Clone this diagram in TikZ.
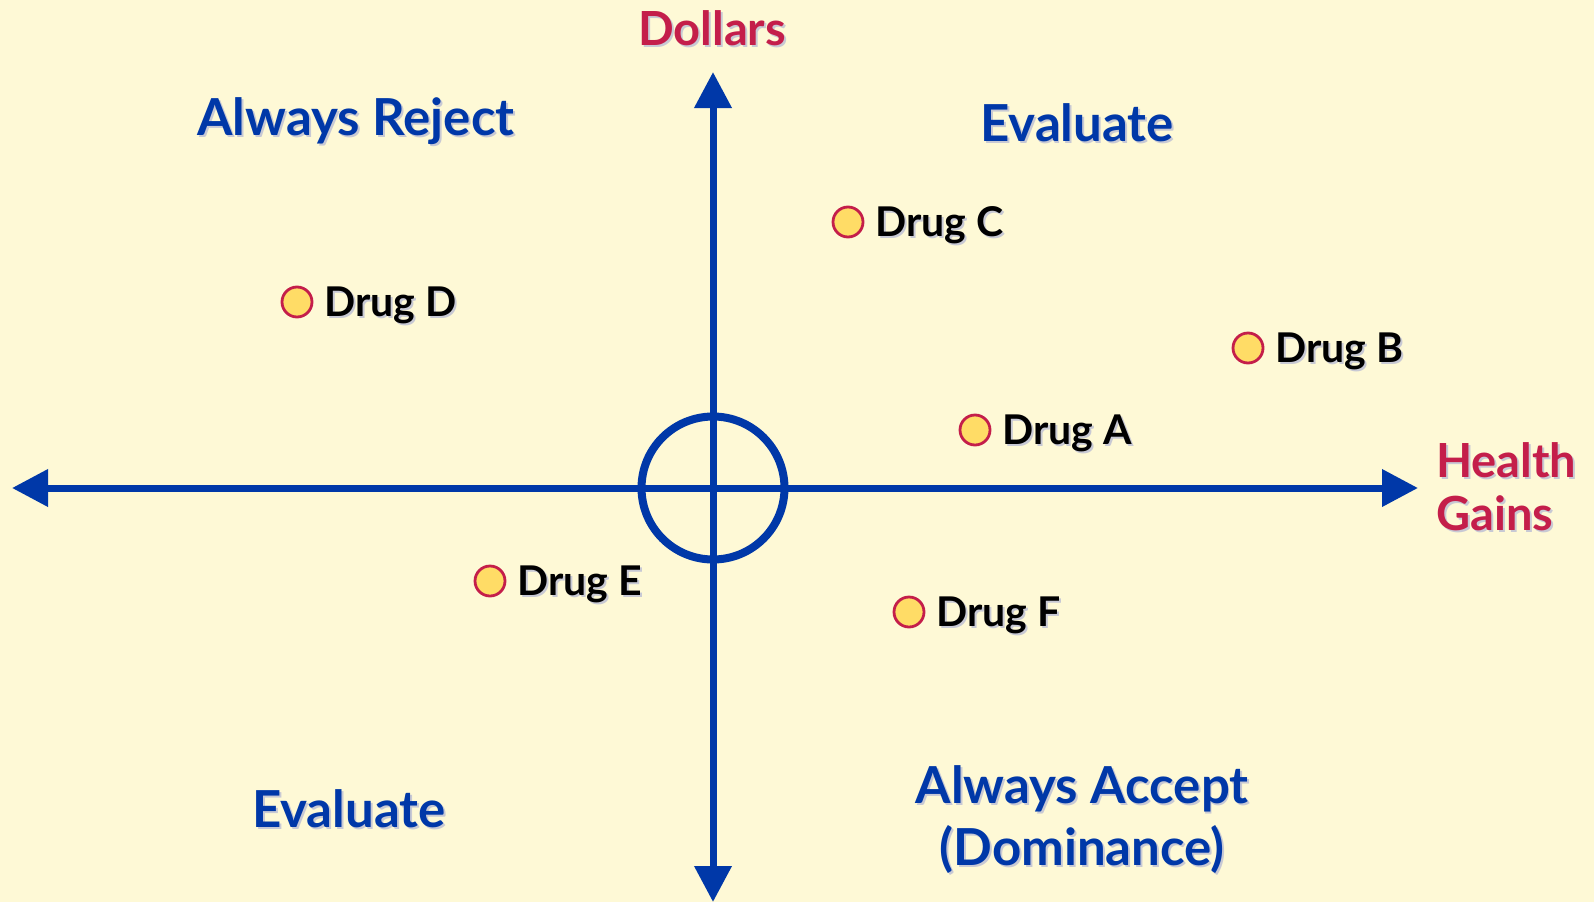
\documentclass[tikz,border=0pt]{standalone}
\usepackage{fontspec}
\setmainfont{Lato}
\usetikzlibrary{arrows.meta,positioning}
\definecolor{cream}{HTML}{FEF9D6}
\definecolor{axisblue}{HTML}{0038A8}
\definecolor{crimson}{HTML}{C41E4A}
\definecolor{dotfill}{HTML}{FFDC66}
\definecolor{shade}{HTML}{C8C9D4}
\newcommand{\shtext}[2]{\leavevmode\rlap{\kern2pt\raisebox{-2pt}{\color{shade}#2}}{\color{#1}#2}}
\tikzset{
  axis/.style={line width=7pt, draw=axisblue, {Triangle[length=36pt,width=36pt]}-{Triangle[length=36pt,width=36pt]}},
  ring/.style={circle, draw=axisblue, line width=8pt, minimum size=143pt, inner sep=0pt},
  drugdot/.style={circle, draw=crimson, fill=dotfill, line width=2.8pt, minimum size=30pt, inner sep=0pt},
  druglabel/.style={inner sep=0pt, font=\fontsize{41}{46}\selectfont\bfseries},
  region/.style={inner sep=0pt, anchor=base, align=center, font=\fontsize{51}{62}\selectfont\bfseries},
  axislabel/.style={inner sep=0pt, align=left, font=\fontsize{47}{53}\selectfont\bfseries}
}
\begin{document}
\begin{tikzpicture}[x=1pt,y=-1pt]
\fill[cream] (0,0) rectangle (1594,902);
\useasboundingbox (0,0) rectangle (1594,902);
\coordinate (O) at (713,488);
\coordinate (W) at (12,488);
\coordinate (E) at (1418,488);
\coordinate (N) at (713,72);
\coordinate (S) at (713,902);
\draw[axis] (W) -- (E);
\draw[axis] (S) -- (N);
\node[ring] (origin) at (O) {};

\node[axislabel, anchor=base] (dollars) at (712,45) {\shtext{crimson}{Dollars}};
\node[axislabel, anchor=base west] (health) at (1436,530) {\shtext{crimson}{Health}\\\shtext{crimson}{Gains}};

\node[region] (reject) at (356,135) {\shtext{axisblue}{Always Reject}};
\node[region] (evalTop) at (1077,141) {\shtext{axisblue}{Evaluate}};
\node[region] (evalBottom) at (349,827) {\shtext{axisblue}{Evaluate}};
\node[region] (accept) at (1082,865) {\shtext{axisblue}{Always Accept}\\\shtext{axisblue}{(Dominance)}};

\node[drugdot] (dA) at (975,430) {};
\node[drugdot] (dB) at (1248,348) {};
\node[drugdot] (dC) at (848,222) {};
\node[drugdot] (dD) at (297,302) {};
\node[drugdot] (dE) at (490,581) {};
\node[drugdot] (dF) at (909,612) {};
\node[druglabel, right=11pt of dA.east, anchor=base west, yshift=-14pt] (lA) {\shtext{black}{Drug A}};
\node[druglabel, right=11pt of dB.east, anchor=base west, yshift=-14pt] (lB) {\shtext{black}{Drug B}};
\node[druglabel, right=11pt of dC.east, anchor=base west, yshift=-14pt] (lC) {\shtext{black}{Drug C}};
\node[druglabel, right=11pt of dD.east, anchor=base west, yshift=-14pt] (lD) {\shtext{black}{Drug D}};
\node[druglabel, right=11pt of dE.east, anchor=base west, yshift=-14pt] (lE) {\shtext{black}{Drug E}};
\node[druglabel, right=11pt of dF.east, anchor=base west, yshift=-14pt] (lF) {\shtext{black}{Drug F}};
\end{tikzpicture}
\end{document}
